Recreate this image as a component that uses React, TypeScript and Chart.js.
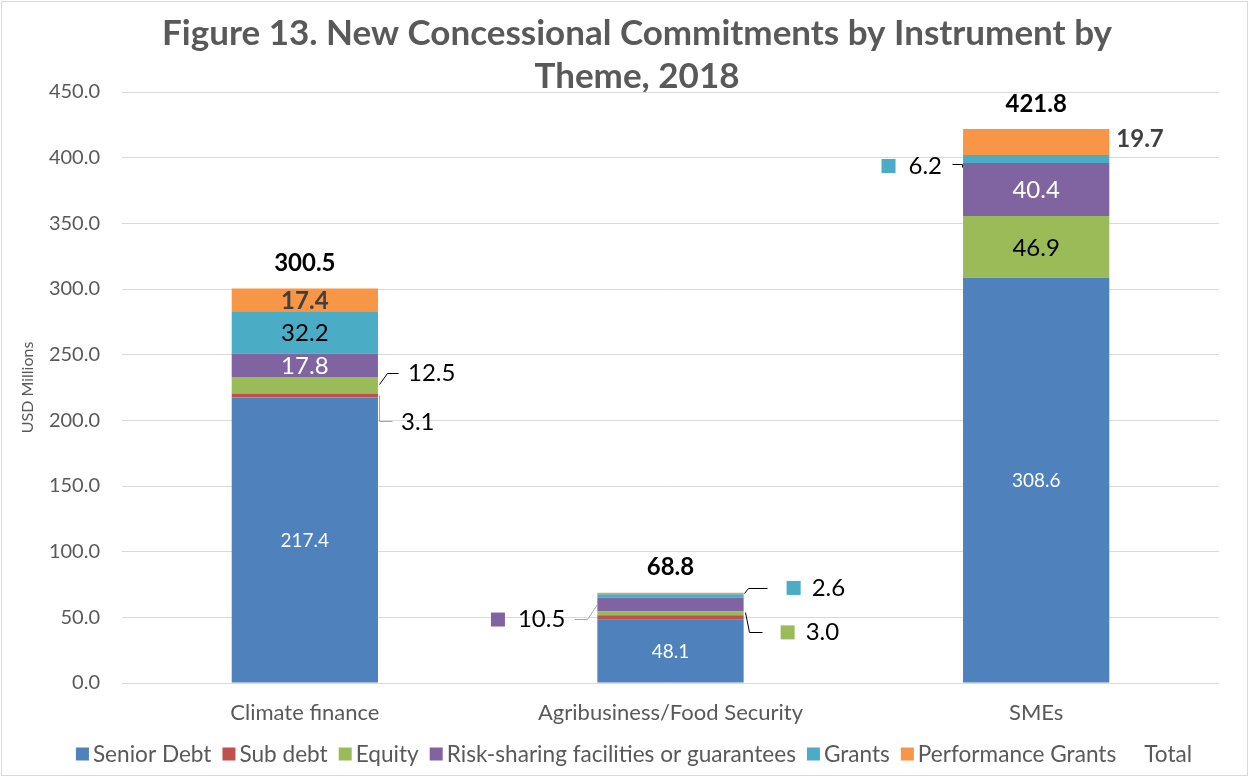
import React, { useEffect, useRef } from "react";
import { Chart, registerables } from "chart.js";

Chart.register(...registerables);

// ---------- data ----------
const categories = ["Climate finance", "Agribusiness/Food Security", "SMEs"];
const seniorDebt = [217.4, 48.1, 308.6];
const subDebt = [3.1, 3.4, 0];
const equity = [12.5, 3.0, 46.9];
const riskSharing = [17.8, 10.5, 40.4];
const grants = [32.2, 2.6, 6.2];
const performanceGrants = [17.4, 1.2, 19.7];
const totals = [300.5, 68.8, 421.8];
const seriesNames = [
  "Senior Debt",
  "Sub debt",
  "Equity",
  "Risk-sharing facilities or guarantees",
  "Grants",
  "Performance Grants",
];
const totalName = "Total";
const titleLines = ["Figure 13. New Concessional Commitments by Instrument by", "Theme, 2018"];
const yAxisTitle = "USD Millions";
const yMin = 0;
const yMax = 450;
const yStep = 50;

// ---------- styles ----------
const FONT = "Lato";
const colors = ["#4F81BD", "#C0504D", "#9BBB59", "#8064A2", "#4BACC6", "#F79646"];
const GRAY = "#595959";
const LEADER_GRAY = "#a6a6a6";

type InSpec = { kind: "in"; color: string; bold?: boolean; size: number };
type OutSpec = {
  kind: "out";
  side: "left" | "right";
  pts: [number, number][];
  tx: number;
  ty: number;
  marker?: boolean;
  color: string;
  leader?: string;
  bold?: boolean;
  size: number;
};
type Spec = InSpec | OutSpec;

// key: datasetIndex-categoryIndex
const labelSpecs: Record<string, Spec> = {
  "0-0": { kind: "in", color: "#ffffff", size: 19 },
  "1-0": { kind: "out", side: "right", pts: [[1, 0], [1, 26], [14, 26]], tx: 23, ty: 27, color: "#000", leader: LEADER_GRAY, size: 24 },
  "2-0": { kind: "out", side: "right", pts: [[1, -1], [9, -12], [20, -12]], tx: 30, ty: -12, color: "#000", size: 24 },
  "3-0": { kind: "in", color: "#ffffff", size: 24 },
  "4-0": { kind: "in", color: "#000000", size: 24 },
  "5-0": { kind: "in", color: "#404040", bold: true, size: 24 },

  "0-1": { kind: "in", color: "#ffffff", size: 19 },
  "2-1": { kind: "out", side: "right", pts: [[1, -1], [5, 19], [18, 19]], tx: 62, ty: 19, marker: true, color: "#000", size: 24 },
  "3-1": { kind: "out", side: "left", pts: [[0, -1], [-10, 14], [-23, 14]], tx: -32, ty: 15, marker: true, color: "#000", leader: LEADER_GRAY, size: 24 },
  "4-1": { kind: "out", side: "right", pts: [[0, -3], [4, -8], [23, -8]], tx: 68, ty: -8, marker: true, color: "#000", size: 24 },

  "0-2": { kind: "in", color: "#ffffff", size: 19 },
  "2-2": { kind: "in", color: "#000000", size: 24 },
  "3-2": { kind: "in", color: "#ffffff", size: 24 },
  "4-2": { kind: "out", side: "left", pts: [[-11, 5], [-1, 5], [-1, 8]], tx: -21, ty: 7, marker: true, color: "#000", size: 24 },
  "5-2": { kind: "out", side: "right", pts: [], tx: 7, ty: -3, color: "#404040", bold: true, size: 24 },
};

const decorPlugin = {
  id: "decor",
  beforeDraw(chart: any) {
    const ctx = chart.ctx;
    ctx.save();
    ctx.fillStyle = "#ffffff";
    ctx.fillRect(0, 0, chart.width, chart.height);
    ctx.strokeStyle = "#d9d9d9";
    ctx.lineWidth = 1;
    ctx.strokeRect(1.5, 1.5, chart.width - 3, chart.height - 3);
    // title
    ctx.fillStyle = GRAY;
    ctx.font = `bold 35px ${FONT}`;
    ctx.textAlign = "center";
    ctx.textBaseline = "middle";
    ctx.fillText(titleLines[0], 637, 34);
    ctx.fillText(titleLines[1], 637, 77);
    ctx.restore();
  },
  afterDatasetsDraw(chart: any) {
    const ctx = chart.ctx;
    ctx.save();
    ctx.textBaseline = "middle";
    const nBar = seriesNames.length;
    for (let di = 0; di < nBar; di++) {
      const meta = chart.getDatasetMeta(di);
      const values = chart.data.datasets[di].data as number[];
      meta.data.forEach((el: any, i: number) => {
        const spec = labelSpecs[`${di}-${i}`];
        if (!spec) return;
        const text = values[i].toFixed(1);
        const midY = (el.y + el.base) / 2;
        const left = el.x - el.width / 2;
        const right = el.x + el.width / 2;
        ctx.font = `${spec.bold ? "bold " : ""}${spec.size}px ${FONT}`;
        ctx.fillStyle = spec.color;
        if (spec.kind === "in") {
          ctx.textAlign = "center";
          ctx.fillText(text, el.x, midY + 1);
          return;
        }
        const ax = spec.side === "right" ? right : left;
        const ay = midY;
        if (spec.pts.length) {
          ctx.strokeStyle = spec.leader || "#000000";
          ctx.lineWidth = 1;
          ctx.beginPath();
          spec.pts.forEach(([dx, dy], k) => {
            const px = Math.round(ax + dx) + 0.5;
            const py = Math.round(ay + dy) + 0.5;
            if (k === 0) ctx.moveTo(px, py);
            else ctx.lineTo(px, py);
          });
          ctx.stroke();
        }
        const tx = ax + spec.tx;
        const ty = ay + spec.ty;
        const w = ctx.measureText(text).width;
        if (spec.side === "right") {
          ctx.textAlign = "left";
          ctx.fillText(text, tx, ty);
          if (spec.marker) {
            ctx.fillStyle = colors[di];
            ctx.fillRect(tx - 25, ty - 7, 14, 14);
          }
        } else {
          ctx.textAlign = "right";
          ctx.fillText(text, tx, ty);
          if (spec.marker) {
            ctx.fillStyle = colors[di];
            ctx.fillRect(tx - w - 27, ty - 7, 14, 14);
          }
        }
      });
    }
    // totals
    const tMeta = chart.getDatasetMeta(nBar);
    ctx.font = `bold 24px ${FONT}`;
    ctx.fillStyle = "#000000";
    ctx.textAlign = "center";
    tMeta.data.forEach((el: any, i: number) => {
      ctx.fillText(totals[i].toFixed(1), el.x, el.y - 25);
    });
    ctx.restore();
  },
  afterDraw(chart: any) {
    // legend
    const ctx = chart.ctx;
    ctx.save();
    ctx.font = `22.6px ${FONT}`;
    ctx.textBaseline = "middle";
    ctx.textAlign = "left";
    const names = [...seriesNames, totalName];
    const box = 13;
    const gapBox = 4;
    const gapItem = 11;
    const widths = names.map((n) => box + gapBox + ctx.measureText(n).width);
    const total = widths.reduce((a, b) => a + b, 0) + gapItem * (names.length - 1);
    let x = 634 - total / 2;
    const yc = 754;
    names.forEach((n, k) => {
      if (k < colors.length) {
        ctx.fillStyle = colors[k];
        ctx.fillRect(x, yc - box / 2, box, box);
      }
      ctx.fillStyle = GRAY;
      ctx.fillText(n, x + box + gapBox, yc + 1);
      x += widths[k] + gapItem;
    });
    ctx.restore();
  },
};

export default function App() {
  const canvasRef = useRef<HTMLCanvasElement | null>(null);

  useEffect(() => {
    document.body.style.margin = "0";
    const canvas = canvasRef.current;
    if (!canvas) return;
    const seriesValues = [seniorDebt, subDebt, equity, riskSharing, grants, performanceGrants];
    const datasets: any[] = seriesNames.map((name, k) => ({
      type: "bar",
      label: name,
      data: seriesValues[k],
      backgroundColor: colors[k],
      borderWidth: 0,
      stack: "main",
      barPercentage: 0.4,
      categoryPercentage: 1.0,
    }));
    datasets.push({
      type: "line",
      label: totalName,
      data: totals,
      stack: "total",
      showLine: false,
      pointRadius: 0,
      borderColor: "rgba(0,0,0,0)",
      backgroundColor: "rgba(0,0,0,0)",
    });

    const chart = new Chart(canvas, {
      type: "bar",
      data: { labels: categories, datasets },
      options: {
        animation: false,
        responsive: true,
        maintainAspectRatio: false,
        layout: { padding: { top: 92, left: 0, right: 30, bottom: 44 } },
        plugins: {
          legend: { display: false },
          title: { display: false },
          tooltip: { enabled: false },
        },
        scales: {
          x: {
            stacked: true,
            offset: true,
            grid: { display: false, drawTicks: false },
            border: { display: false },
            ticks: { color: GRAY, font: { family: FONT, size: 22 }, padding: 17 },
            afterFit: (s: any) => {
              s.height = 50;
            },
          },
          y: {
            stacked: true,
            min: yMin,
            max: yMax,
            grid: { color: "#d9d9d9", lineWidth: 1, drawTicks: false },
            border: { display: false },
            ticks: {
              stepSize: yStep,
              color: GRAY,
              font: { family: FONT, size: 20 },
              padding: 22,
              callback: (v: any) => Number(v).toFixed(1),
            },
            title: {
              display: true,
              text: yAxisTitle,
              color: GRAY,
              font: { family: FONT, size: 16 },
              padding: { top: 18, bottom: 0 },
            },
            afterFit: (s: any) => {
              s.width = 122;
            },
          },
        },
      },
      plugins: [decorPlugin],
    });
    return () => chart.destroy();
  }, []);

  return (
    <div style={{ position: "relative", width: 1249, height: 777 }}>
      <canvas ref={canvasRef} />
    </div>
  );
}
